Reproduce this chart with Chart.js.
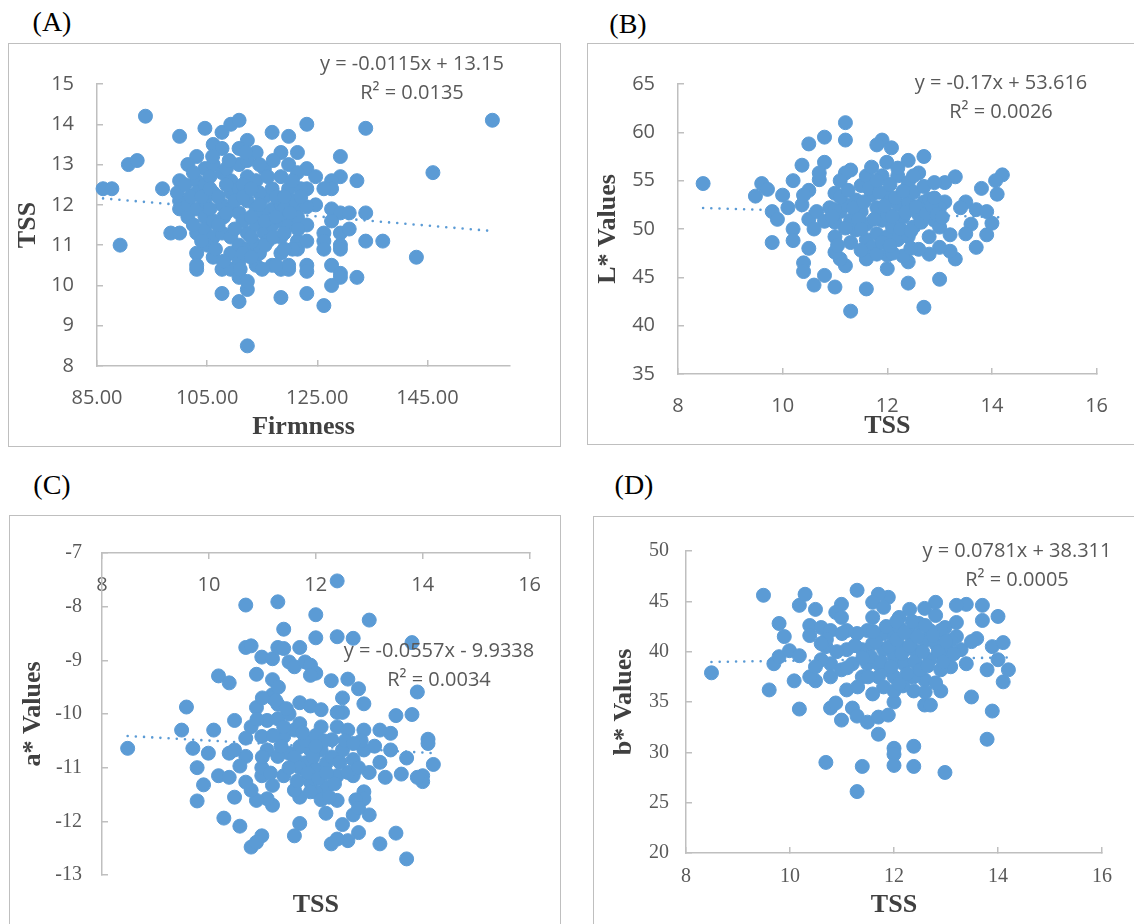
<!DOCTYPE html>
<html>
<head>
<meta charset="utf-8">
<script src="https://cdn.jsdelivr.net/npm/chart.js@4.4.1/dist/chart.umd.min.js"></script>
<style>
  body { margin: 0; background: #fff; width: 1134px; height: 924px; overflow: hidden; position: relative; }
  .box { position: absolute; border: 1.5px solid #bfbfbf; box-sizing: border-box; }
  canvas { position: absolute; }
  .tag { position: absolute; width: 80px; text-align: center; font: 28px "Liberation Serif", serif; line-height: 30px; color: #000; }
  .eq { position: absolute; width: 300px; text-align: center; font: 20px "Open Sans", sans-serif; line-height: 24px; color: #595959; white-space: nowrap; }
</style>
</head>
<body>
<div class="tag" style="left:12px;top:7px">(A)</div>
<div class="tag" style="left:588px;top:9px">(B)</div>
<div class="tag" style="left:12px;top:470px">(C)</div>
<div class="tag" style="left:594px;top:470px">(D)</div>

<div class="box" style="left:8px;top:43px;width:553px;height:404px"></div>
<div class="box" style="left:587px;top:43px;width:570px;height:402px"></div>
<div class="box" style="left:9px;top:515px;width:552px;height:430px"></div>
<div class="box" style="left:593px;top:516px;width:570px;height:430px"></div>

<canvas id="chartA" width="553" height="403" style="left:8px;top:43px"></canvas>
<canvas id="chartB" width="547" height="401" style="left:587px;top:43px"></canvas>
<canvas id="chartC" width="552" height="409" style="left:9px;top:515px"></canvas>
<canvas id="chartD" width="541" height="408" style="left:593px;top:516px"></canvas>

<div class="eq" style="left:262px;top:51px">y = -0.0115x + 13.15</div>
<div class="eq" style="left:262px;top:80px">R² = 0.0135</div>
<div class="eq" style="left:851px;top:70px">y = -0.17x + 53.616</div>
<div class="eq" style="left:851px;top:99px">R² = 0.0026</div>
<div class="eq" style="left:289px;top:638px">y = -0.0557x - 9.9338</div>
<div class="eq" style="left:289px;top:667px">R² = 0.0034</div>
<div class="eq" style="left:867px;top:538px">y = 0.0781x + 38.311</div>
<div class="eq" style="left:867px;top:567px">R² = 0.0005</div>

<script>
// ---- data ----
// (A) Firmness vs TSS
const firmnessA = [86.1, 87.7, 89.2, 90.7, 92.3, 93.8, 96.9, 98.4, 100, 100, 100, 103.1, 103.1, 103.1, 104.6, 103.1, 101.5, 107.7, 107.7, 109.3,
  110.8, 110.8, 112.3, 112.3, 112.3, 106.1, 107.7, 110.8, 113.9, 116.8, 119.8, 118.4, 121.4, 123.1, 123.1, 124.7, 123.1, 124.7, 118.4, 123.1,
  126.2, 129.2, 129.2, 127.6, 132.2, 127.6, 126.2, 127.6, 129.2, 130.8, 133.8, 127.6, 126.2, 126.2, 129.2, 130.8, 129.2, 129.2, 126.2, 127.6,
  129.2, 129.2, 127.6, 132.2, 133.8, 133.8, 136.9, 143.0, 146.0, 156.8,
  100, 100, 99.6, 101.5, 101.5, 103.1, 103.1, 103.1, 103.1, 104.6, 104.6, 104.6, 104.6, 104.6, 106.1, 106.1, 106.1, 106.1, 106.1, 107.7,
  107.7, 107.7, 107.7, 109.3, 109.3, 109.3, 109.3, 109.3, 109.3, 110.8, 110.8, 110.8, 110.8, 110.8, 110.8, 112.3, 112.3, 112.3, 112.3, 112.3,
  112.3, 113.9, 113.9, 113.9, 113.9, 113.9, 115.4, 115.4, 115.4, 116.8, 116.8, 116.8, 116.8, 118.4, 118.4, 118.4, 118.4, 118.4, 118.4, 119.8,
  119.8, 119.8, 119.8, 119.8, 121.4, 121.4, 121.4, 121.4, 121.4, 123.1, 123.1, 123.1, 123.1, 123.1,
  102, 105.5, 108.5, 111.5, 114.5, 117.5, 120.5, 122, 108, 111.5, 115, 119, 105, 114.5, 116, 120.5, 117.5];
const tssA = [12.4, 12.4, 11.0, 13.0, 13.1, 14.2, 12.4, 11.3, 11.3, 13.7, 12.6, 10.8, 10.4, 10.5, 13.9, 13.2, 13.0, 13.8, 9.8, 14.0,
  14.1, 9.6, 8.5, 9.9, 13.6, 13.5, 13.4, 13.4, 13.3, 13.8, 13.7, 13.3, 13.3, 14.0, 12.9, 12.7, 12.4, 12.0, 9.7, 9.8,
  9.5, 13.2, 12.7, 12.6, 12.6, 12.4, 12.4, 11.9, 11.8, 11.8, 11.8, 11.6, 11.3, 11.1, 11.3, 11.4, 11.0, 10.9, 10.9, 10.5,
  10.3, 10.2, 10.0, 10.2, 13.9, 11.1, 11.1, 10.7, 12.8, 14.1,
  12.1, 11.9, 12.3, 11.7, 12.0, 12.6, 12.3, 11.9, 11.3, 12.9, 12.5, 12.1, 11.7, 11.4, 13.0, 12.3, 11.6, 11.2, 10.7, 12.8,
  12.0, 11.3, 10.4, 12.6, 12.3, 11.9, 11.2, 10.8, 10.4, 13.0, 12.4, 11.8, 11.0, 10.6, 10.2, 13.1, 12.7, 12.1, 11.3, 10.9,
  10.1, 12.6, 11.9, 11.5, 11.0, 10.5, 12.9, 12.2, 11.3, 12.4, 11.9, 11.5, 10.5, 12.7, 12.0, 11.6, 11.2, 10.8, 10.4, 13.0,
  12.4, 11.5, 10.4, 10.5, 12.8, 12.0, 11.7, 11.1, 10.9, 11.95, 11.5, 11.1, 10.5, 10.35,
  12.2, 12.7, 12.5, 12.5, 12.3, 12.2, 12.1, 12.4, 11.7, 11.6, 11.8, 11.9, 11.0, 10.8, 11.1, 10.9, 10.5];
// dense middle of the (A) cloud
const firmnessAcore = [101, 102.5, 104, 105.5, 105.5, 107, 107, 108.5, 108.5, 110, 110, 111.5, 111.5, 113, 113, 113, 114.5, 115.5, 115.5, 116,
  117, 117.5, 119, 119, 120, 120.5, 121.5, 122, 106.5, 108, 111, 113, 115, 119, 104, 102.5, 106, 109, 112, 114.5, 117];
const tssAcore = [12.5, 11.5, 12.2, 11.9, 12.4, 12.2, 11.5, 11.8, 12.9, 12.1, 11.4, 12.2, 10.8, 12.4, 11.7, 11.2, 12.0, 11.6, 11.0, 12.7,
  11.2, 11.7, 12.2, 11.3, 11.8, 12.6, 11.4, 12.2, 10.9, 10.6, 10.4, 10.7, 10.4, 10.9, 11.1, 12.8, 13.2, 13.1, 13.3, 13.0, 13.1];
const trendAx = [86.1, 156.8];
const trendAy = [12.16, 11.35];
const firmnessTicks = [85, 105, 125, 145];

// (B) TSS vs L*
const tssB = [8.48, 9.48, 9.6, 9.71, 9.8, 9.9, 9.8, 10.0, 10.1, 10.2, 10.2, 10.2, 10.37, 10.37, 10.4, 10.4, 10.5, 10.5, 10.6, 10.8,
  10.8, 10.8, 11.0, 11.2, 11.2, 11.3, 11.6, 11.9, 11.8, 12.08, 11.99, 12.4, 12.7, 12.6, 12.4, 12.7, 13.0, 13.3, 13.3, 13.7,
  13.8, 13.9, 14.0, 14.1, 14.2, 14.07, 13.5, 13.4, 13.7, 13.9, 13.2, 13.1, 13.1, 13.6, 13.5, 13.2, 13.0, 12.8, 12.4, 12.3,
  12.0, 12.0, 11.6, 11.2, 11.1, 11.0, 11.0, 11.3, 11.3, 11.2, 11.1, 11.0, 10.7, 10.7, 10.5, 10.4, 10.5, 10.65, 10.6, 10.8,
  10.9, 11.0, 11.1, 11.2, 11.3, 11.4, 11.4, 11.5, 11.5, 11.6, 11.6, 11.6, 11.7, 11.7, 11.7, 11.8, 11.8, 11.9, 11.9, 12.0,
  12.0, 12.0, 12.1, 12.2, 12.2, 12.2, 12.3, 12.4, 12.4, 12.5, 12.5, 12.6, 12.6, 12.7, 12.7, 12.8, 12.9, 12.9, 13.0, 13.0,
  12.4, 12.1, 11.8, 12.8];
const lValuesB = [54.7, 53.4, 54.7, 54.1, 51.8, 51.0, 48.6, 53.5, 52.2, 55.0, 50.0, 48.8, 56.6, 52.5, 46.5, 45.6, 58.8, 48.0, 44.2, 59.5,
  56.9, 45.2, 44.0, 61.0, 59.2, 41.5, 43.8, 59.2, 58.7, 58.4, 56.9, 57.1, 57.5, 55.8, 44.4, 41.9, 44.8, 55.4, 46.9, 48.1,
  54.2, 49.4, 50.6, 53.6, 55.6, 55.0, 52.8, 52.2, 52.0, 51.8, 49.4, 52.8, 54.8, 50.5, 49.5, 47.7, 48.1, 47.4, 46.6, 47.2,
  45.9, 47.3, 46.9, 46.2, 46.9, 47.6, 49.2, 48.6, 56.1, 55.8, 55.0, 53.7, 55.1, 55.8, 54.0, 53.5, 51.0, 51.8, 50.0, 50.8,
  52.2, 50.7, 51.8, 52.5, 50.9, 53.0, 49.9, 54.5, 51.8, 55.5, 50.5, 48.9, 56.4, 53.5, 48.1, 52.2, 49.5, 55.5, 50.9, 53.5,
  51.5, 49.2, 50.2, 55.5, 52.5, 48.9, 51.2, 54.8, 52.8, 50.2, 53.8, 51.5, 47.9, 54.4, 52.8, 49.2, 54.8, 50.9, 52.2, 50.2,
  49.2, 47.5, 47.4, 53.1];
const tssBcore = [11.0, 11.1, 11.2, 11.25, 11.35, 11.45, 11.5, 11.55, 11.65, 11.75, 11.85, 11.9, 11.95, 12.05, 12.1, 12.15, 12.25, 12.3, 12.35, 12.45,
  12.55, 12.65, 12.75, 12.85, 12.95, 12.05, 11.5, 12.45, 11.05, 10.95, 12.2, 11.8, 12.5, 12.9, 13.05];
const lValuesBcore = [52.0, 53.3, 50.1, 54.0, 52.2, 51.0, 50.0, 52.8, 54.2, 51.0, 53.8, 48.6, 52.4, 54.6, 51.3, 53.2, 50.0, 53.9, 51.7, 49.8,
  52.3, 50.7, 51.6, 52.4, 51.5, 48.3, 47.8, 48.0, 48.3, 51.3, 56.3, 55.0, 55.5, 53.2, 51.2];
const trendBx = [8.48, 14.2];
const trendBy = [52.17, 51.2];

// (C) TSS vs a*
const tssC = [8.48, 9.49, 9.58, 9.7, 9.78, 9.9, 9.78, 9.99, 10.09, 10.18, 10.38, 10.18, 10.28, 10.48, 10.48, 10.58, 10.69, 10.69, 10.79, 10.79,
  10.89, 10.89, 10.99, 11.19, 11.29, 11.29, 11.19, 11.19, 11.4, 11.4, 11.5, 11.6, 11.7, 11.8, 11.9, 12.0, 12.0, 12.0, 11.9, 11.7,
  11.9, 12.1, 12.29, 12.4, 12.4, 12.7, 13.0, 12.6, 12.8, 12.5, 12.5, 12.4, 12.9, 13.5, 13.8, 13.8, 13.9, 14.1, 14.1, 14.2,
  14.0, 14.0, 13.9, 13.7, 13.6, 13.5, 13.7, 13.2, 13.3, 13.2, 13.4, 13.4, 13.2, 13.0, 12.9, 12.9, 12.8, 12.7, 12.7, 12.6,
  12.5, 12.4, 12.29, 12.4, 12.19, 12.4, 12.2, 12.0, 11.7, 11.7, 11.6, 11.6, 10.99, 10.89, 11.19, 11.09, 10.89, 10.79, 10.69, 10.99,
  11.19, 11.4, 10.99, 10.69, 10.58, 10.38, 10.48, 10.38, 10.69, 10.79, 10.99, 11.09, 11.09, 11.29, 11.4, 11.5, 11.6, 11.7, 11.7, 11.8,
  11.9, 12.0, 12.1, 12.1, 12.2, 12.3, 12.4, 12.5, 12.6, 12.7, 12.9, 12.9, 13.0, 12.6, 11.9, 11.5, 11.29, 11.19, 11.29, 11.4];
const aValuesC = [-10.64, -10.30, -9.87, -10.64, -11.0, -11.32, -11.62, -10.73, -10.30, -9.29, -9.42, -11.15, -11.94, -10.12, -11.55, -12.09, -7.97, -8.76, -8.73, -12.48,
  -9.26, -9.88, -8.94, -8.97, -7.91, -8.76, -9.36, -9.64, -8.42, -8.78, -9.03, -9.12, -8.76, -9.03, -9.09, -8.15, -8.58, -9.24, -9.28, -9.79,
  -9.85, -9.92, -9.38, -7.52, -8.56, -8.59, -8.25, -9.35, -9.53, -9.70, -9.97, -9.97, -9.81, -10.03, -10.01, -8.67, -9.59, -10.47, -10.55, -10.94,
  -11.15, -11.26, -11.18, -10.82, -11.12, -12.22, -12.70, -12.42, -11.18, -10.90, -10.67, -10.36, -10.30, -11.88, -11.45, -11.58, -12.21, -11.88, -11.15, -12.36,
  -12.06, -12.33, -12.42, -11.61, -11.85, -11.15, -11.36, -11.45, -11.55, -12.04, -12.27, -11.42, -12.27, -12.39, -11.70, -11.58, -11.61, -11.42, -11.27, -11.15,
  -11.33, -11.15, -11.0, -10.79, -10.97, -10.73, -10.67, -11.18, -10.45, -10.24, -10.42, -10.67, -10.12, -10.09, -10.42, -10.0, -10.30, -10.18, -10.61, -10.91,
  -10.67, -11.03, -10.24, -10.67, -10.91, -10.48, -10.24, -10.67, -10.30, -10.85, -10.30, -10.67, -11.09, -11.09, -11.27, -10.73, -10.79, -9.70, -9.82, -10.24];
const tssCcore = [11.6, 11.7, 11.8, 11.85, 11.95, 12.0, 12.05, 12.15, 12.2, 12.3, 12.35, 12.45, 12.55, 11.65, 11.75, 11.5, 11.35, 11.2, 11.0, 11.15,
  12.8, 12.85, 12.7, 13.1, 12.0, 11.9, 12.1, 12.25, 12.75, 12.8, 11.3, 11.25, 11.45, 10.9, 11.0];
const aValuesCcore = [-10.8, -11.0, -10.5, -11.1, -10.8, -10.4, -11.2, -10.5, -11.1, -10.8, -11.3, -10.9, -10.5, -11.25, -10.35, -11.0, -10.6, -10.4, -10.8, -11.1,
  -11.0, -10.5, -10.55, -10.6, -10.6, -11.45, -11.6, -11.55, -11.6, -11.75, -9.5, -9.75, -9.9, -10.1, -9.7];
const trendCx = [8.48, 14.2];
const trendCy = [-10.41, -10.73];

// (D) TSS vs b*
const tssD = [8.49, 9.49, 9.6, 9.69, 9.79, 9.79, 9.89, 9.99, 10.08, 10.18, 10.18, 10.18, 10.29, 10.38, 10.38, 10.49, 10.49, 10.38, 10.6, 10.69,
  10.78, 10.88, 10.99, 10.99, 10.88, 10.99, 11.09, 11.2, 11.29, 11.29, 11.29, 11.39, 11.49, 11.59, 11.7, 11.7, 11.89, 12.0, 12.0, 12.0,
  12.0, 12.0, 12.38, 12.38, 12.38, 12.98, 12.59, 12.7, 12.9, 13.49, 13.79, 13.89, 13.79, 14.1, 14.2, 14.0, 13.89, 14.1, 14.0, 13.7,
  13.7, 13.59, 13.49, 13.39, 13.39, 13.2, 13.2, 13.2, 13.09, 12.98, 12.8, 12.59, 12.8, 12.3, 12.1, 11.89, 11.7, 11.59, 11.8, 11.59,
  11.49, 11.29, 11.09, 10.78, 10.69, 10.78, 10.6, 10.49, 10.78, 10.99, 11.09, 11.2, 11.39, 11.39, 11.49, 11.59, 11.7, 11.7, 11.8, 11.8,
  11.89, 12.0, 12.0, 12.0, 12.1, 12.1, 12.19, 12.3, 12.3, 12.38, 12.48, 12.48, 12.59, 12.59, 12.69, 12.69, 12.8, 12.9, 12.9, 12.98,
  13.09, 13.29, 12.38, 12.17, 12.8];
const bValuesD = [37.9, 45.6, 36.2, 38.8, 42.8, 39.5, 41.5, 40.1, 37.1, 44.6, 34.3, 39.6, 45.7, 42.6, 41.6, 44.2, 37.1, 37.5, 42.4, 29.0,
  34.4, 34.9, 33.2, 44.7, 43.9, 43.4, 36.2, 34.4, 33.6, 46.1, 26.1, 28.6, 33.0, 35.8, 33.5, 31.8, 33.7, 30.4, 29.8, 28.7,
  35.0, 36.1, 36.1, 30.6, 28.6, 28.0, 34.7, 34.7, 36.1, 35.5, 31.3, 34.1, 38.2, 37.0, 38.2, 39.2, 40.5, 40.9, 43.5, 43.1,
  44.6, 41.3, 41.0, 38.8, 44.7, 44.6, 42.9, 41.5, 38.5, 42.4, 44.9, 44.3, 43.6, 44.2, 43.4, 45.4, 45.7, 44.9, 44.4, 43.4,
  42.1, 41.8, 42.1, 42.1, 40.5, 38.8, 39.2, 38.5, 37.5, 38.2, 40.2, 38.8, 40.2, 37.5, 38.8, 40.8, 38.8, 37.5, 41.8, 40.2,
  38.2, 41.5, 39.5, 37.5, 42.4, 40.5, 38.8, 41.8, 37.5, 40.2, 42.8, 38.5, 41.1, 37.2, 42.1, 39.2, 40.8, 38.2, 42.1, 40.2,
  41.1, 40.2, 37.5, 36.6, 36.9];
const tssDcore = [11.55, 11.65, 11.75, 11.85, 11.9, 11.95, 12.05, 12.05, 12.15, 12.2, 12.25, 12.3, 12.35, 12.4, 12.45, 12.5, 12.55, 12.6, 12.65, 12.75,
  12.85, 12.95, 11.6, 11.5, 11.4, 11.25, 11.1, 10.9, 10.7, 11.0, 13.0, 13.15, 12.1, 12.6, 11.8, 11.3, 10.6];
const bValuesDcore = [39.5, 41.0, 39.0, 42.5, 40.5, 38.5, 41.2, 43.0, 39.8, 41.9, 37.8, 40.6, 43.0, 39.0, 41.5, 38.2, 40.0, 42.6, 38.6, 41.6,
  40.0, 39.0, 42.0, 37.5, 39.4, 40.6, 38.4, 40.0, 41.2, 41.8, 41.0, 39.8, 36.8, 36.0, 36.5, 36.5, 40.8];
const trendDx = [8.49, 14.2];
const trendDy = [38.98, 39.42];

const tssTicks = [8, 10, 12, 14, 16];

// ---- styling ----
const BLUE = '#5b9bd5';
const AXIS = '#bfbfbf';
const TICK_COLOR = '#595959';
const TITLE_COLOR = '#404040';
const SANS = { family: '"Open Sans", sans-serif', size: 20 };
const SERIF = { family: '"Liberation Serif", serif', size: 20 };
const TITLE_FONT = { family: '"Liberation Serif", serif', size: 26, weight: 'bold' };

function pairs(xs, ys) {
  return xs.map((x, i) => ({ x: x, y: ys[i] }));
}

function datasets(xs, ys, tx, ty) {
  return [
    {
      type: 'scatter', data: pairs(xs, ys), order: 1, clip: false,
      pointBackgroundColor: BLUE, pointBorderColor: BLUE, pointBorderWidth: 1,
      pointRadius: 7, pointHoverRadius: 7
    },
    {
      type: 'line', data: pairs(tx, ty), order: 2,
      borderColor: BLUE, borderWidth: 2.6, borderDash: [0, 8.2], borderCapStyle: 'round',
      pointRadius: 0, fill: false
    }
  ];
}

// fixed-size axis helper: width/height given so the plot area lands where the original has it
function axis(opts) {
  const s = {
    type: 'linear',
    min: opts.min, max: opts.max,
    position: opts.position,
    border: { display: true, color: AXIS, width: 1.5 },
    grid: { drawOnChartArea: false, color: AXIS, lineWidth: 1.5, tickLength: -6 },
    ticks: {
      font: opts.font, color: TICK_COLOR, padding: opts.pad, autoSkip: false,
      maxRotation: 0, mirror: !!opts.mirror
    },
    title: opts.title ? { display: true, text: opts.title, font: TITLE_FONT, color: TITLE_COLOR, padding: opts.titlePad } : { display: false },
    afterFit: s2 => {
      if (opts.size != null) {
        if (s2.isHorizontal()) s2.height = opts.size; else s2.width = opts.size;
      }
    }
  };
  if (opts.tickList) {
    s.afterBuildTicks = sc => { sc.ticks = opts.tickList.map(v => ({ value: v })); };
  }
  if (opts.fmt) s.ticks.callback = opts.fmt;
  return s;
}

function makeChart(id, data, scales, padding) {
  return new Chart(document.getElementById(id), {
    data: { datasets: data },
    options: {
      responsive: false, animation: false, devicePixelRatio: 1,
      layout: { padding: padding },
      plugins: { legend: { display: false }, tooltip: { enabled: false } },
      scales: scales
    }
  });
}

const yTicks = (min, max, step) => {
  const out = [];
  for (let v = min; v <= max + 1e-9; v += step) out.push(v);
  return out;
};

// (A)
makeChart('chartA', datasets(firmnessA.concat(firmnessAcore), tssA.concat(tssAcore), trendAx, trendAy), {
  x: axis({ min: 85, max: 160, position: 'bottom', font: SANS, pad: 26, size: 80, tickList: firmnessTicks,
            fmt: v => Number(v).toFixed(2), title: 'Firmness', titlePad: { top: 0, bottom: 3 } }),
  y: axis({ min: 8, max: 15, position: 'left', font: SANS, pad: 29, size: 89, tickList: yTicks(8, 15, 1),
            title: 'TSS', titlePad: { top: 5, bottom: 0 } })
}, { top: 29, right: 51, left: 0, bottom: 0 });

// (B)
makeChart('chartB', datasets(tssB.concat(tssBcore), lValuesB.concat(lValuesBcore), trendBx, trendBy), {
  x: axis({ min: 8, max: 16, position: 'bottom', font: SANS, pad: 26, size: 70, tickList: tssTicks,
            title: 'TSS', titlePad: { top: 0, bottom: 2 } }),
  y: axis({ min: 35, max: 65, position: 'left', font: SANS, pad: 29, size: 91, tickList: yTicks(35, 65, 5),
            title: 'L* Values', titlePad: { top: 6, bottom: 0 } })
}, { top: 27, right: 26, left: 0, bottom: 0 });

// (C) - all values negative, so the x axis sits on top with labels under it
const scalesC = {
  x: axis({ min: 8, max: 16, position: 'top', font: SANS, pad: 20, size: 30, tickList: tssTicks, mirror: true }),
  y: axis({ min: -13, max: -7, position: 'left', font: SERIF, pad: 26, size: 93, tickList: yTicks(-13, -7, 1),
            title: 'a* Values', titlePad: { top: 9, bottom: 0 } }),
  x2: {
    type: 'linear', axis: 'x', position: 'bottom', min: 8, max: 16,
    border: { display: false }, grid: { display: false }, ticks: { display: false },
    title: { display: true, text: 'TSS', font: TITLE_FONT, color: TITLE_COLOR, padding: { top: 0, bottom: 3 } },
    afterFit: s => { s.height = 49; }
  }
};
makeChart('chartC', datasets(tssC.concat(tssCcore), aValuesC.concat(aValuesCcore), trendCx, trendCy), scalesC,
  { top: 0, right: 28, left: 0, bottom: 0 });

// (D)
makeChart('chartD', datasets(tssD.concat(tssDcore), bValuesD.concat(bValuesDcore), trendDx, trendDy), {
  x: axis({ min: 8, max: 16, position: 'bottom', font: SERIF, pad: 18, size: 71, tickList: tssTicks,
            title: 'TSS', titlePad: { top: 0, bottom: 3 } }),
  y: axis({ min: 20, max: 50, position: 'left', font: SERIF, pad: 23, size: 93, tickList: yTicks(20, 50, 5),
            title: 'b* Values', titlePad: { top: 16, bottom: 0 } })
}, { top: 30, right: 32, left: 0, bottom: 0 });
</script>
</body>
</html>
